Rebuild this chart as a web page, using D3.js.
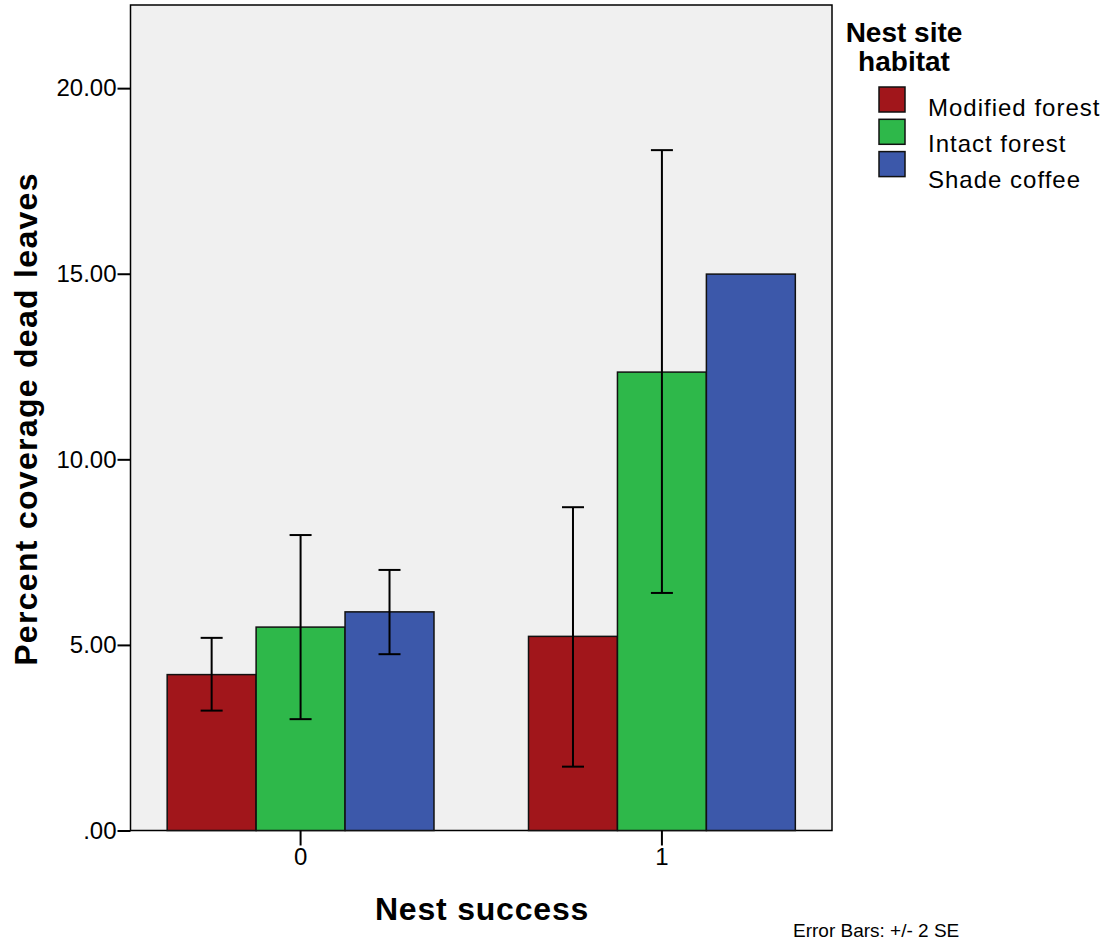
<!DOCTYPE html>
<html>
<head>
<meta charset="utf-8">
<script src="https://cdn.jsdelivr.net/npm/d3@7"></script>
<style>
  body { margin: 0; background: #fff; }
  text { font-family: "Liberation Sans", Arial, sans-serif; }
</style>
</head>
<body>
<svg id="canvas" width="1115" height="944"></svg>
<script>
// data
let groups = ["0", "1"]
let habitats = ["Modified forest", "Intact forest", "Shade coffee"]
let colors = ["#a1161b", "#2eb84a", "#3c58aa"]
let means0 = [4.20, 5.48, 5.89]
let means1 = [5.23, 12.35, 14.99]
let lower0 = [3.23, 3.00, 4.75]
let upper0 = [5.19, 7.96, 7.02]
let lower1 = [1.72, 6.40, null]
let upper1 = [8.71, 18.33, null]
let yTicks = [0, 5, 10, 15, 20]

let rows = []
groups.forEach((g, gi) => {
    let m = gi === 0 ? means0 : means1
    let lo = gi === 0 ? lower0 : lower1
    let hi = gi === 0 ? upper0 : upper1
    habitats.forEach((h, k) => {
        rows.push({group: g, habitat: h, color: colors[k], mean: m[k], lo: lo[k], hi: hi[k]})
    })
})

let svg = d3.select("#canvas")
let plotLeft = 130.5, plotRight = 832, plotTop = 5, plotBottom = 830.5

let y = d3.scaleLinear().domain([0, 22.24]).range([plotBottom, plotTop])
let x = d3.scaleBand().domain(groups).range([plotLeft, plotRight]).paddingInner(0.2616).paddingOuter(0.1015)
let xInner = d3.scaleBand().domain(habitats).range([0, x.bandwidth()])

// plot background
svg.append("rect")
    .attr("x", plotLeft).attr("y", plotTop)
    .attr("width", plotRight - plotLeft).attr("height", plotBottom - plotTop)
    .attr("fill", "#f0f0f0")
    .attr("stroke", "#000").attr("stroke-width", 1.5)

// bars
svg.selectAll("rect.bar")
    .data(rows)
    .enter()
    .append("rect")
    .attr("class", "bar")
    .attr("x", d => x(d.group) + xInner(d.habitat))
    .attr("y", d => y(d.mean))
    .attr("width", xInner.bandwidth())
    .attr("height", d => y(0) - y(d.mean))
    .attr("fill", d => d.color)
    .attr("stroke", "#111").attr("stroke-width", 1.5)

// error bars (+/- 2 SE)
let eb = rows.filter(d => d.lo !== null)
let cap = 11
let eg = svg.append("g").attr("stroke", "#000").attr("stroke-width", 2)
eb.forEach(d => {
    let cx = x(d.group) + xInner(d.habitat) + xInner.bandwidth() / 2
    eg.append("line").attr("x1", cx).attr("x2", cx).attr("y1", y(d.lo)).attr("y2", y(d.hi))
    eg.append("line").attr("x1", cx - cap).attr("x2", cx + cap).attr("y1", y(d.lo)).attr("y2", y(d.lo))
    eg.append("line").attr("x1", cx - cap).attr("x2", cx + cap).attr("y1", y(d.hi)).attr("y2", y(d.hi))
})

// y axis
let yAxis = d3.axisLeft(y).tickValues(yTicks).tickSize(13).tickPadding(1)
    .tickFormat(d => d === 0 ? ".00" : d3.format(".2f")(d))
let ya = svg.append("g").attr("transform", `translate(${plotLeft},0)`).call(yAxis)
ya.select(".domain").remove()
ya.selectAll("line").attr("stroke", "#000").attr("stroke-width", 2)
ya.selectAll("text").attr("font-size", 24).attr("fill", "#000")

// x axis
let xAxis = d3.axisBottom(x).tickSize(15).tickPadding(2)
let xa = svg.append("g").attr("transform", `translate(0,${plotBottom})`).call(xAxis)
xa.select(".domain").remove()
xa.selectAll("line").attr("stroke", "#000").attr("stroke-width", 2)
xa.selectAll("text").attr("font-size", 24).attr("fill", "#000")

// axis titles
svg.append("text")
    .attr("x", 482).attr("y", 920)
    .attr("text-anchor", "middle")
    .attr("font-size", 32).attr("font-weight", "bold")
    .attr("letter-spacing", 0.8)
    .text("Nest success")

svg.append("text")
    .attr("transform", "translate(37,419) rotate(-90)")
    .attr("text-anchor", "middle")
    .attr("font-size", 32).attr("font-weight", "bold")
    .attr("letter-spacing", 1.3)
    .text("Percent coverage dead leaves")

// legend
svg.append("text").attr("x", 904).attr("y", 42).attr("text-anchor", "middle")
    .attr("font-size", 28).attr("font-weight", "bold").text("Nest site")
svg.append("text").attr("x", 904).attr("y", 71).attr("text-anchor", "middle")
    .attr("font-size", 28).attr("font-weight", "bold").text("habitat")

let lg = svg.selectAll("g.legend")
    .data(habitats)
    .enter()
    .append("g")
    .attr("class", "legend")
lg.append("rect")
    .attr("x", 879)
    .attr("y", (d, i) => 87 + i * 32.3)
    .attr("width", 26).attr("height", 25)
    .attr("fill", (d, i) => colors[i])
    .attr("stroke", "#111").attr("stroke-width", 1.5)
lg.append("text")
    .attr("x", 928)
    .attr("y", (d, i) => 116 + i * 36)
    .attr("font-size", 24)
    .attr("letter-spacing", 1)
    .text(d => d)

svg.append("text")
    .attr("x", 793).attr("y", 937)
    .attr("font-size", 19)
    .text("Error Bars: +/- 2 SE")
</script>
</body>
</html>
